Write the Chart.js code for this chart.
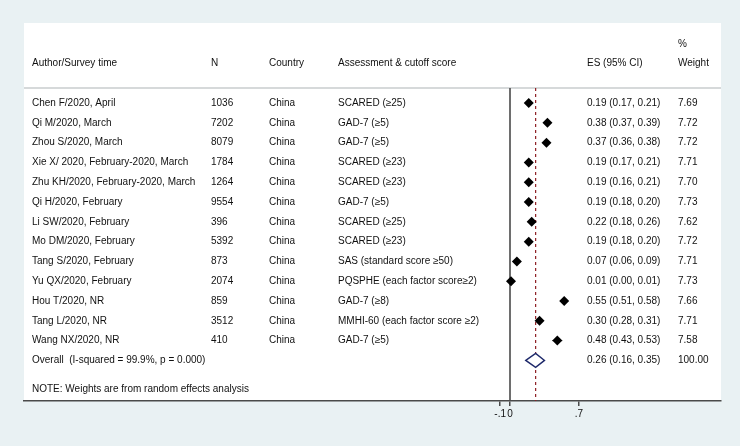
<!DOCTYPE html>
<html>
<head>
<meta charset="utf-8">
<script src="https://cdn.jsdelivr.net/npm/chart.js@4.4.1/dist/chart.umd.min.js"></script>
<style>
  html, body { margin: 0; padding: 0; background: #e9f1f3; }
  canvas { display: block; }
</style>
</head>
<body>
<canvas id="forest" width="740" height="446"></canvas>
<script>
// data
var authors = ['Chen F/2020, April', 'Qi M/2020, March', 'Zhou S/2020, March',
  'Xie X/ 2020, February-2020, March', 'Zhu KH/2020, February-2020, March',
  'Qi H/2020, February', 'Li SW/2020, February', 'Mo DM/2020, February',
  'Tang S/2020, February', 'Yu QX/2020, February', 'Hou T/2020, NR',
  'Tang L/2020, NR', 'Wang NX/2020, NR'];
var sampleN = [1036, 7202, 8079, 1784, 1264, 9554, 396, 5392, 873, 2074, 859, 3512, 410];
var countries = ['China', 'China', 'China', 'China', 'China', 'China', 'China',
  'China', 'China', 'China', 'China', 'China', 'China'];
var assessments = ['SCARED (\u226525)', 'GAD-7 (\u22655)', 'GAD-7 (\u22655)', 'SCARED (\u226523)',
  'SCARED (\u226523)', 'GAD-7 (\u22655)', 'SCARED (\u226525)', 'SCARED (\u226523)',
  'SAS (standard score \u226550)', 'PQSPHE (each factor score\u22652)', 'GAD-7 (\u22658)',
  'MMHI-60 (each factor score \u22652)', 'GAD-7 (\u22655)'];
var es = [0.19, 0.38, 0.37, 0.19, 0.19, 0.19, 0.22, 0.19, 0.07, 0.01, 0.55, 0.30, 0.48];
var ciLow = [0.17, 0.37, 0.36, 0.17, 0.16, 0.18, 0.18, 0.18, 0.06, 0.00, 0.51, 0.28, 0.43];
var ciHigh = [0.21, 0.39, 0.38, 0.21, 0.21, 0.20, 0.26, 0.20, 0.09, 0.01, 0.58, 0.31, 0.53];
var weights = [7.69, 7.72, 7.72, 7.71, 7.70, 7.73, 7.62, 7.72, 7.71, 7.73, 7.66, 7.71, 7.58];

var overallLabel = 'Overall  (I-squared = 99.9%, p = 0.000)';
var overallES = 0.26, overallLow = 0.16, overallHigh = 0.35, overallWeight = 100.00;
var noteText = 'NOTE: Weights are from random effects analysis';

var xTicks = [-0.1, 0, 0.7];
var xTickLabels = ['-.1', '0', '.7'];

var FONT = '10px "Liberation Sans", Arial, sans-serif';
var TEXT = '#111111';
// left edge of each text column
var col = { author: 32, n: 211, country: 269, assess: 338, es: 587, weight: 678 };

function fmt(v) { return v.toFixed(2); }

var points = es.map(function(v, i) { return { x: v, y: i }; });

var forestPlugin = {
  id: 'forest',
  beforeDraw: function(chart) {
    var ctx = chart.ctx, a = chart.chartArea;
    ctx.save();
    ctx.fillStyle = '#e9f1f3';
    ctx.fillRect(0, 0, chart.width, chart.height);
    ctx.fillStyle = '#ffffff';
    ctx.fillRect(a.left, 23, a.right - a.left, a.bottom - 23);
    // header separator
    ctx.strokeStyle = '#d6d9da';
    ctx.lineWidth = 2;
    ctx.beginPath();
    ctx.moveTo(a.left, a.top);
    ctx.lineTo(a.right, a.top);
    ctx.stroke();
    ctx.restore();
  },
  beforeDatasetsDraw: function(chart) {
    var ctx = chart.ctx, a = chart.chartArea;
    var xs = chart.scales.x, ys = chart.scales.y;
    ctx.save();
    // null line
    var x0 = xs.getPixelForValue(0);
    ctx.strokeStyle = '#4a4a4a';
    ctx.lineWidth = 1.6;
    ctx.beginPath();
    ctx.moveTo(x0, a.top);
    ctx.lineTo(x0, a.bottom);
    ctx.stroke();
    // overall effect dashed line
    var xo = xs.getPixelForValue(overallES);
    ctx.strokeStyle = '#8e1f24';
    ctx.lineWidth = 1.2;
    ctx.setLineDash([3, 3]);
    ctx.beginPath();
    ctx.moveTo(xo, a.top);
    ctx.lineTo(xo, a.bottom);
    ctx.stroke();
    ctx.setLineDash([]);
    // confidence intervals
    ctx.strokeStyle = '#000000';
    ctx.lineWidth = 1;
    for (var i = 0; i < es.length; i++) {
      var y = ys.getPixelForValue(i);
      ctx.beginPath();
      ctx.moveTo(xs.getPixelForValue(ciLow[i]), y);
      ctx.lineTo(xs.getPixelForValue(ciHigh[i]), y);
      ctx.stroke();
    }
    // overall diamond
    var yo = ys.getPixelForValue(es.length);
    ctx.strokeStyle = '#1f2a6b';
    ctx.fillStyle = '#ffffff';
    ctx.lineWidth = 1.4;
    ctx.beginPath();
    ctx.moveTo(xs.getPixelForValue(overallLow), yo);
    ctx.lineTo(xo, yo - 7);
    ctx.lineTo(xs.getPixelForValue(overallHigh), yo);
    ctx.lineTo(xo, yo + 7);
    ctx.closePath();
    ctx.fill();
    ctx.stroke();
    ctx.restore();
  },
  afterDraw: function(chart) {
    var ctx = chart.ctx, ys = chart.scales.y;
    ctx.save();
    ctx.font = FONT;
    ctx.fillStyle = TEXT;
    ctx.textAlign = 'left';
    ctx.textBaseline = 'middle';
    // header
    ctx.fillText('Author/Survey time', col.author, 63);
    ctx.fillText('N', col.n, 63);
    ctx.fillText('Country', col.country, 63);
    ctx.fillText('Assessment & cutoff score', col.assess, 63);
    ctx.fillText('ES (95% CI)', col.es, 63);
    ctx.fillText('%', col.weight, 44);
    ctx.fillText('Weight', col.weight, 63);
    // rows
    for (var i = 0; i < authors.length; i++) {
      var y = ys.getPixelForValue(i);
      ctx.fillText(authors[i], col.author, y);
      ctx.fillText(String(sampleN[i]), col.n, y);
      ctx.fillText(countries[i], col.country, y);
      ctx.fillText(assessments[i], col.assess, y);
      ctx.fillText(fmt(es[i]) + ' (' + fmt(ciLow[i]) + ', ' + fmt(ciHigh[i]) + ')', col.es, y);
      ctx.fillText(fmt(weights[i]), col.weight, y);
    }
    var yo = ys.getPixelForValue(authors.length);
    ctx.fillText(overallLabel, col.author, yo);
    ctx.fillText(fmt(overallES) + ' (' + fmt(overallLow) + ', ' + fmt(overallHigh) + ')', col.es, yo);
    ctx.fillText(fmt(overallWeight), col.weight, yo);
    ctx.fillText(noteText, col.author, ys.getPixelForValue(authors.length + 1.45));
    ctx.restore();
  }
};

// 0 sits at x=510, 0.7 at x=579
var pxPerUnit = (579 - 510) / 0.7;

new Chart(document.getElementById('forest'), {
  type: 'scatter',
  data: {
    datasets: [{
      data: points,
      pointStyle: 'rectRot',
      pointRadius: 5,
      pointHoverRadius: 5,
      backgroundColor: '#000000',
      borderColor: '#000000',
      borderWidth: 0
    }]
  },
  options: {
    responsive: false,
    animation: false,
    events: [],
    layout: { padding: { left: 24, right: 19, top: 88, bottom: 25 } },
    plugins: { legend: { display: false }, tooltip: { enabled: false } },
    scales: {
      x: {
        type: 'linear',
        min: (24 - 510) / pxPerUnit,
        max: (721 - 510) / pxPerUnit,
        afterBuildTicks: function(scale) {
          scale.ticks = xTicks.map(function(v) { return { value: v }; });
        },
        afterFit: function(scale) { scale.height = 20; },
        ticks: {
          autoSkip: false,
          maxRotation: 0,
          padding: 2,
          color: TEXT,
          font: { family: '"Liberation Sans", Arial, sans-serif', size: 10 },
          callback: function(v) {
            var k = xTicks.indexOf(v);
            return k >= 0 ? xTickLabels[k] : '';
          }
        },
        grid: { drawOnChartArea: false, drawTicks: true, tickLength: 5, color: '#4a4a4a', lineWidth: 1.5 },
        border: { display: true, color: '#4a4a4a', width: 1.6 }
      },
      y: {
        type: 'linear',
        display: false,
        reverse: true,
        min: -0.76,
        max: 15.05
      }
    }
  },
  plugins: [forestPlugin]
});
</script>
</body>
</html>
